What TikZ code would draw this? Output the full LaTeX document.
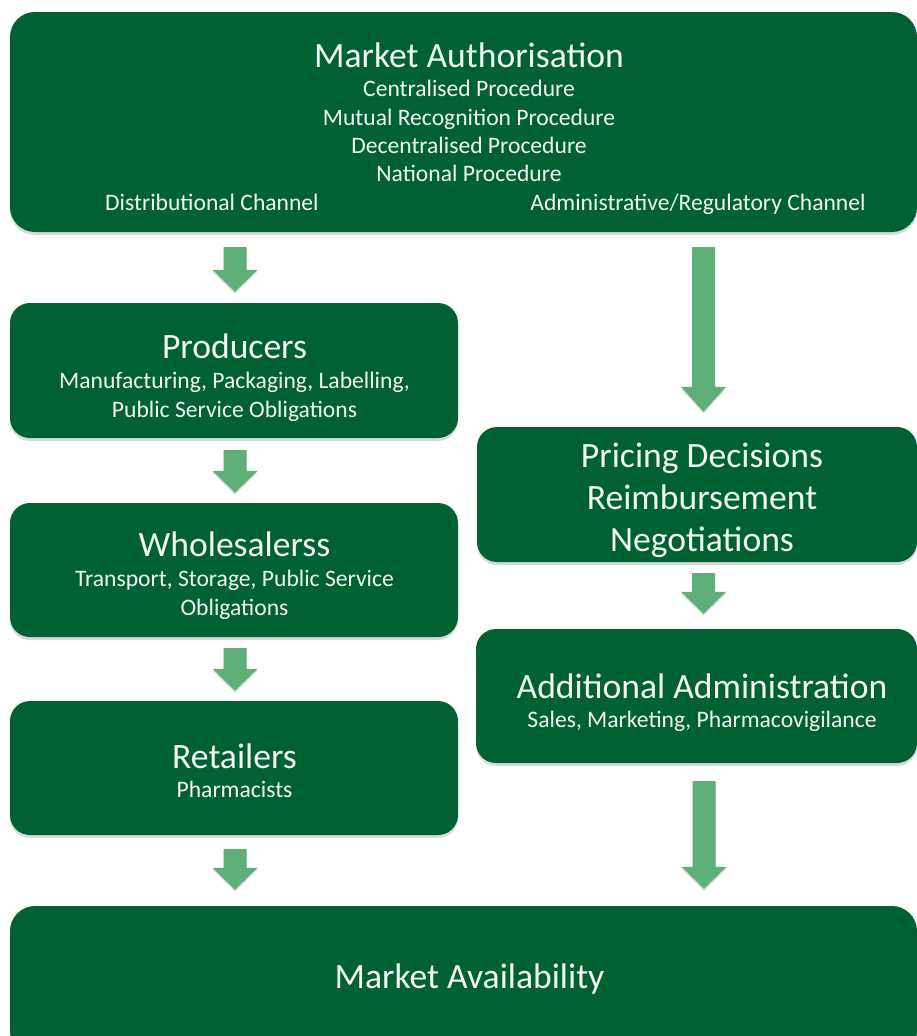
\documentclass[tikz,border=0pt]{standalone}
\usepackage{fontspec}
\setmainfont{Carlito}
\usetikzlibrary{calc,shadows}
\definecolor{boxgreen}{HTML}{006233}
\definecolor{arrgreen}{HTML}{5FAF79}
\definecolor{txtwhite}{HTML}{F4F6F4}
\tikzset{
 box/.style={fill=boxgreen, draw=none, rounded corners=20pt, inner sep=0pt,
   drop shadow={shadow xshift=0pt, shadow yshift=-3pt, opacity=0.3}},
 ttl/.style={text=txtwhite, inner sep=0pt, anchor=base, font=\fontsize{35.6}{42}\selectfont},
 sub/.style={text=txtwhite, inner sep=0pt, anchor=base, font=\fontsize{23.6}{28}\selectfont},
 fatarrow/.style={fill=arrgreen, draw=none,
   drop shadow={shadow xshift=0pt, shadow yshift=-2pt, opacity=0.25}}
}
\newcommand\blockarrow[3]{% #1 start, #2 tip, #3 head length
 \path[fatarrow] ($(#1)+(-11.5,0)$) -- ($(#1)+(11.5,0)$) -- ($(#2)+(11.5,-#3)$)
   -- ($(#2)+(22.5,-#3)$) -- (#2) -- ($(#2)+(-22.5,-#3)$) -- ($(#2)+(-11.5,-#3)$) -- cycle;}
\begin{document}
\begin{tikzpicture}[x=1pt,y=-1pt]
\useasboundingbox (0,0) rectangle (917,1036);
\clip (0,0) rectangle (917,1036);
% boxes
\node[box, minimum width=907pt, minimum height=220pt, rounded corners=25pt] (ma) at (463.5,122) {};
\node[box, minimum width=448pt, minimum height=135pt] (prod) at (234,370.5) {};
\node[box, minimum width=448pt, minimum height=134pt] (whole) at (234,570) {};
\node[box, minimum width=448pt, minimum height=134pt] (ret) at (234,768) {};
\node[box, minimum width=440pt, minimum height=135pt] (price) at (697,494.5) {};
\node[box, minimum width=441pt, minimum height=134pt] (addadm) at (696.5,696) {};
\node[box, minimum width=907pt, minimum height=150pt, rounded corners=25pt] (mav) at (463.5,981) {};
% texts
\node[ttl] (t1) at (469,67) {Market Authorisation};
\node[sub] (t2) at (469,96) {Centralised Procedure};
\node[sub] (t3) at (469,125) {Mutual Recognition Procedure};
\node[sub] (t4) at (469,153) {Decentralised Procedure};
\node[sub] (t5) at (469,181) {National Procedure};
\node[sub] (t6) at (212,210) {Distributional Channel};
\node[sub] (t7) at (698,210) {Administrative/Regulatory Channel};
\node[ttl] (t8) at (234.5,358) {Producers};
\node[sub] (t9) at (234.5,388) {Manufacturing, Packaging, Labelling,};
\node[sub] (t10) at (234.5,417) {Public Service Obligations};
\node[ttl] (t11) at (234.5,556) {Wholesalerss};
\node[sub] (t12) at (234.5,586) {Transport, Storage, Public Service};
\node[sub] (t13) at (234.5,615) {Obligations};
\node[ttl] (t14) at (234.5,768) {Retailers};
\node[sub] (t15) at (234.5,797) {Pharmacists};
\node[ttl] (t16) at (702,467) {Pricing Decisions};
\node[ttl] (t17) at (702,509) {Reimbursement};
\node[ttl] (t18) at (702,551) {Negotiations};
\node[ttl] (t19) at (702,698) {Additional Administration};
\node[sub] (t20) at (702,727) {Sales, Marketing, Pharmacovigilance};
\node[ttl] (t21) at (469.5,988) {Market Availability};
% arrow end points
\coordinate (a1s) at ($(prod.north |- ma.south)+(1,15)$);
\coordinate (a1e) at ($(prod.north)+(1,-11)$);
\coordinate (a2s) at ($(prod.south)+(1,12)$);
\coordinate (a2e) at ($(whole.north)+(1,-10)$);
\coordinate (a3s) at ($(whole.south)+(1,11)$);
\coordinate (a3e) at ($(ret.north)+(1,-10)$);
\coordinate (a4s) at ($(ret.south)+(1,14)$);
\coordinate (a4e) at ($(ret.south |- mav.north)+(1,-16)$);
\coordinate (a5s) at ($(price.north |- ma.south)+(6.5,15)$);
\coordinate (a5e) at ($(price.north)+(6.5,-15)$);
\coordinate (a6s) at ($(price.south)+(6.5,11)$);
\coordinate (a6e) at ($(addadm.north)+(7,-15)$);
\coordinate (a7s) at ($(addadm.south)+(7.5,18)$);
\coordinate (a7e) at ($(addadm.south |- mav.north)+(7.5,-17)$);
% arrows
\blockarrow{a1s}{a1e}{22}
\blockarrow{a2s}{a2e}{22}
\blockarrow{a3s}{a3e}{22}
\blockarrow{a4s}{a4e}{22}
\blockarrow{a5s}{a5e}{25}
\blockarrow{a6s}{a6e}{22}
\blockarrow{a7s}{a7e}{22}
\end{tikzpicture}
\end{document}
